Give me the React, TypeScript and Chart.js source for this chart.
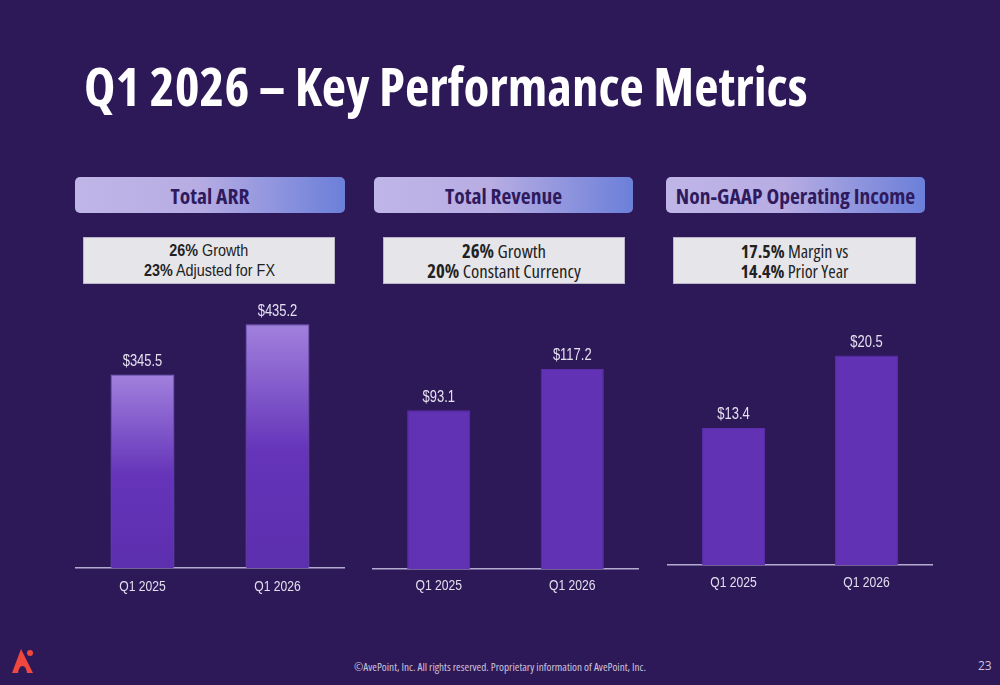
import React, { useEffect, useRef } from "react";
import { Chart, registerables } from "chart.js";

Chart.register(...registerables);

// ---- data ----
const categories = ["Q1 2025", "Q1 2026"];
const arrValues = [345.5, 435.2];
const revenueValues = [93.1, 117.2];
const opIncomeValues = [13.4, 20.5];
const axisMax = [500, 160, 27];

const panelTitles = ["Total ARR", "Total Revenue", "Non-GAAP Operating Income"];
const highlightBold = [
  ["26%", "23%"],
  ["26%", "20%"],
  ["17.5%", "14.4%"],
];
const highlightText = [
  [" Growth", " Adjusted for FX"],
  [" Growth", " Constant Currency"],
  [" Margin vs", " Prior Year"],
];

const BG = "#2d1958";
const BAR = "#6232b5";
const ARIAL = '"Liberation Sans", Arial, sans-serif';
const OPEN = '"Open Sans", "Noto Sans", sans-serif';
const NARROW_RATIO = 0.81;

// Draws canvas text in a narrow (Arial Narrow-like) width during chart drawing
const narrowText = {
  id: "narrowText",
  beforeDraw(chart: any) {
    const ctx = chart.ctx as any;
    if (ctx.__origFill) return;
    const orig = ctx.fillText;
    ctx.__origFill = orig;
    ctx.fillText = function (t: string, x: number, y: number, mw?: number) {
      const w = this.measureText(t).width * NARROW_RATIO;
      return orig.call(this, t, x, y, mw !== undefined ? Math.min(mw, w) : w);
    };
  },
  afterDraw(chart: any) {
    const ctx = chart.ctx as any;
    if (ctx.__origFill) {
      ctx.fillText = ctx.__origFill;
      delete ctx.__origFill;
    }
  },
};

const valueLabels = {
  id: "valueLabels",
  afterDatasetsDraw(chart: any) {
    const { ctx } = chart;
    const meta = chart.getDatasetMeta(0);
    const data = chart.data.datasets[0].data as number[];
    ctx.save();
    ctx.font = `16px ${ARIAL}`;
    ctx.fillStyle = "#e6e1f1";
    ctx.textAlign = "center";
    ctx.textBaseline = "bottom";
    meta.data.forEach((bar: any, i: number) => {
      ctx.fillText("$" + data[i].toFixed(1), bar.x, bar.y - 5);
    });
    ctx.restore();
  },
};

type PanelProps = {
  values: number[];
  max: number;
  left: number;
  top: number;
  width: number;
  height: number;
  gradient: boolean;
  tickPadding: number;
};

function BarPanel({ values, max, left, top, width, height, gradient, tickPadding }: PanelProps) {
  const ref = useRef<HTMLCanvasElement | null>(null);
  useEffect(() => {
    if (!ref.current) return;
    const chart = new Chart(ref.current, {
      type: "bar",
      data: {
        labels: categories,
        datasets: [
          {
            data: values,
            backgroundColor: (c: any) => {
              if (!gradient) return BAR;
              const ch = c.chart;
              if (!ch.chartArea || !ch.scales.y) return BAR;
              const topPx = ch.scales.y.getPixelForValue(c.raw);
              const basePx = ch.scales.y.getPixelForValue(0);
              const g = ch.ctx.createLinearGradient(0, topPx, 0, basePx);
              g.addColorStop(0, "#a181dd");
              g.addColorStop(0.52, "#6534b9");
              g.addColorStop(1, "#5c2fae");
              return g;
            },
            borderColor: gradient ? "#7d5fc6" : "#5a2ea9",
            borderWidth: 1,
            categoryPercentage: 1,
            barPercentage: 0.473,
          },
        ],
      },
      options: {
        responsive: false,
        animation: false,
        devicePixelRatio: 1,
        layout: { padding: 0 },
        plugins: { legend: { display: false }, tooltip: { enabled: false } },
        scales: {
          y: { display: false, min: 0, max },
          x: {
            grid: { display: false, drawTicks: false },
            border: { display: true, color: "#b3acd0", width: 1.5 },
            ticks: {
              color: "#e3dfee",
              padding: tickPadding,
              font: { family: ARIAL, size: 15 },
            },
          },
        },
      },
      plugins: [narrowText, valueLabels],
    });
    return () => chart.destroy();
  }, []);
  return (
    <canvas
      ref={ref}
      width={width}
      height={height}
      style={{ position: "absolute", left, top, width, height }}
    />
  );
}

const headerBoxes = [
  { left: 75, width: 270 },
  { left: 374, width: 259 },
  { left: 666, width: 259 },
];
const subBoxes = [
  { left: 83, width: 252, family: ARIAL, stretch: "normal", size: 17, squeeze: 0.845 },
  { left: 383, width: 242, family: OPEN, stretch: "condensed", size: 18.8, squeeze: 1 },
  { left: 673, width: 243, family: OPEN, stretch: "condensed", size: 18, squeeze: 1 },
];

function Logo() {
  return (
    <svg width="26" height="30" viewBox="0 0 26 30" style={{ position: "absolute", left: 10, top: 646 }}>
      <path d="M11 3 L2 27 L8 27 Q9 20 12.5 20 Q16 20 17 27 L23 27 Z" fill="#f0473e" />
      <circle cx="20" cy="7" r="3" fill="#f0473e" />
    </svg>
  );
}

export default function App() {
  return (
    <div
      style={{
        position: "fixed",
        left: 0,
        top: 0,
        width: 1000,
        height: 685,
        background: BG,
        overflow: "hidden",
      }}
    >
      <div
        style={{
          position: "absolute",
          left: 84,
          top: 59,
          fontFamily: OPEN,
          fontWeight: 700,
          fontSize: 53,
          lineHeight: 1,
          fontStretch: "condensed",
          color: "#ffffff",
          whiteSpace: "nowrap",
        }}
      >
        Q1 2026 – Key Performance Metrics
      </div>

      {headerBoxes.map((b, i) => (
        <div
          key={"h" + i}
          style={{
            position: "absolute",
            left: b.left,
            top: 177,
            width: b.width,
            height: 36,
            borderRadius: 5,
            background: "linear-gradient(90deg, #bfb5e7 0%, #b8ade3 45%, #6b7fd9 100%)",
            display: "flex",
            alignItems: "center",
            justifyContent: "center",
            fontFamily: OPEN,
            fontWeight: 700,
            fontSize: 21.5,
            fontStretch: "condensed",
            color: "#2e1a5c",
            whiteSpace: "nowrap",
          }}
        >
          {panelTitles[i]}
        </div>
      ))}

      {subBoxes.map((b, i) => (
        <div
          key={"s" + i}
          style={{
            position: "absolute",
            left: b.left,
            top: 237,
            width: b.width,
            height: 47,
            boxSizing: "border-box",
            background: "#e6e6ea",
            border: "1px solid #b9b6c8",
            display: "flex",
            flexDirection: "column",
            alignItems: "center",
            justifyContent: "center",
            fontFamily: b.family,
            fontStretch: b.stretch,
            fontSize: b.size,
            lineHeight: "20px",
            color: "#222222",
            whiteSpace: "nowrap",
          }}
        >
          {[0, 1].map((l) => (
            <span
              key={l}
              style={{ display: "inline-block", transform: `scaleX(${b.squeeze})` }}
            >
              <b>{highlightBold[i][l]}</b>
              {highlightText[i][l]}
            </span>
          ))}
        </div>
      ))}

      <BarPanel values={arrValues} max={axisMax[0]} left={75} top={288} width={270} height={318} gradient={true} tickPadding={10} />
      <BarPanel values={revenueValues} max={axisMax[1]} left={372} top={296} width={267} height={307} gradient={false} tickPadding={8} />
      <BarPanel values={opIncomeValues} max={axisMax[2]} left={667} top={289} width={266} height={312} gradient={false} tickPadding={9} />

      <Logo />
      <div
        style={{
          position: "absolute",
          left: 0,
          width: 1000,
          top: 659,
          textAlign: "center",
          fontFamily: OPEN,
          fontStretch: "condensed",
          fontSize: 11.2,
          lineHeight: "15px",
          color: "#cbc4dd",
          whiteSpace: "nowrap",
        }}
      >
        ©AvePoint, Inc. All rights reserved. Proprietary information of AvePoint, Inc.
      </div>
      <div
        style={{
          position: "absolute",
          left: 978,
          top: 658,
          fontFamily: OPEN,
          fontSize: 12,
          lineHeight: "16px",
          color: "#cbc4dd",
        }}
      >
        23
      </div>
    </div>
  );
}
